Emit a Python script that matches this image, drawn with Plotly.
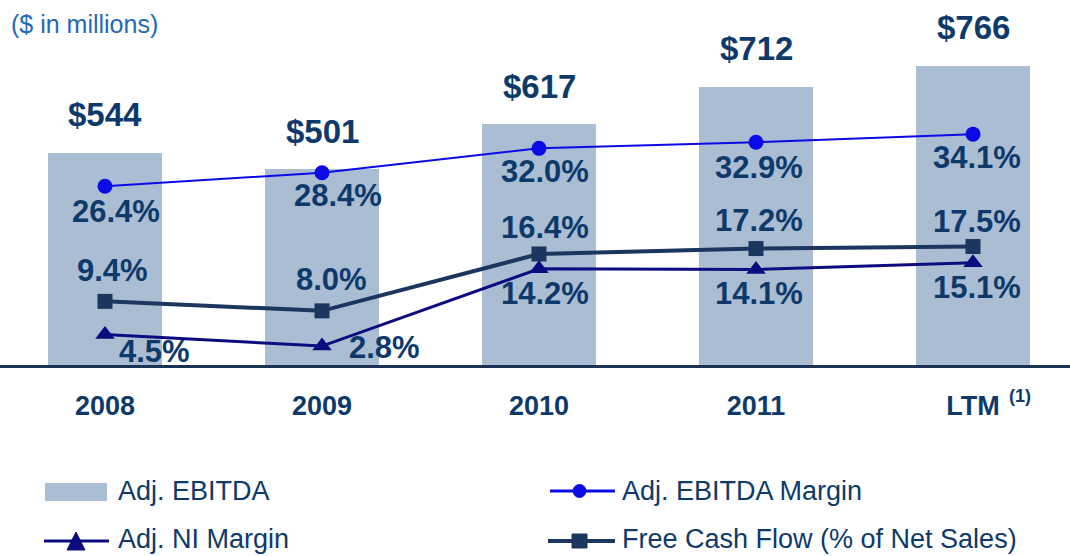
import plotly.graph_objects as go

# ---- data ----
periods = ["2008", "2009", "2010", "2011", "LTM"]
adj_ebitda = [544, 501, 617, 712, 766]            # $ in millions
ebitda_margin = [26.4, 28.4, 32.0, 32.9, 34.1]    # %
ni_margin = [4.5, 2.8, 14.2, 14.1, 15.1]          # %
fcf_pct_sales = [9.4, 8.0, 16.4, 17.2, 17.5]      # %

# ---- style ----
W, H = 1070, 556
FONT = "Liberation Sans, Arial, sans-serif"
TXT = "#0e3a6b"
BAR_C = "#aabdd3"
EBM_C = "#0b0be6"
NI_C = "#0d0b80"
FCF_C = "#1b365f"
AXIS_C = "#1a3355"

# label offsets in pixels (dx right, dy down from the point)
ebm_off = [(11, 25), (16, 23), (6, 23), (3, 25), (4, 23)]
fcf_off = [(7, -31), (9, -31), (6, -26), (3, -28), (4, -25)]
ni_off = [(49, 17), (62, 1), (6, 25), (3, 24), (4, 25)]

base_px = 365                     # pixel row of the zero line
bar_scale = 0.3905                # px per $M
pct_scale = 6.77                  # px per percentage point
cat_px = 217                      # px between category centres
first_px = 105                    # px of first category centre

fig = go.Figure()

fig.add_trace(go.Bar(
    x=periods, y=adj_ebitda, name="Adj. EBITDA",
    marker=dict(color=BAR_C, line=dict(width=0)),
    width=0.525, yaxis="y", showlegend=False, hoverinfo="skip",
))

fig.add_trace(go.Scatter(
    x=periods, y=ebitda_margin, name="Adj. EBITDA Margin", yaxis="y2",
    mode="lines+markers", line=dict(color=EBM_C, width=2),
    marker=dict(symbol="circle", size=15, color=EBM_C), showlegend=False,
))
fig.add_trace(go.Scatter(
    x=periods, y=fcf_pct_sales, name="Free Cash Flow (% of Net Sales)", yaxis="y2",
    mode="lines+markers", line=dict(color=FCF_C, width=4),
    marker=dict(symbol="square", size=15, color=FCF_C), showlegend=False,
))
fig.add_trace(go.Scatter(
    x=periods, y=ni_margin, name="Adj. NI Margin", yaxis="y2",
    mode="lines+markers", line=dict(color=NI_C, width=3),
    marker=dict(symbol="triangle-up", size=17, color=NI_C), showlegend=False,
))

ann = []
# dollar labels above bars (x given as category index)
for i, v in enumerate(adj_ebitda):
    ann.append(dict(x=i, y=v, xref="x", yref="y", text=f"${v:,.0f}",
                    showarrow=False, yanchor="middle", yshift=38,
                    font=dict(family=FONT, size=33, color=TXT, weight="bold")))


def pct_labels(vals, offs):
    for i, (v, (dx, dy)) in enumerate(zip(vals, offs)):
        ann.append(dict(x=i, y=v, xref="x", yref="y2", text=f"{v:.1f}%",
                        showarrow=False, yanchor="middle", xanchor="center",
                        xshift=dx, yshift=-dy,
                        font=dict(family=FONT, size=31, color=TXT, weight="bold")))


pct_labels(ebitda_margin, ebm_off)
pct_labels(fcf_pct_sales, fcf_off)
pct_labels(ni_margin, ni_off)

# footnote marker on the LTM tick
ann.append(dict(x=periods.index("LTM"), y=1 - 396 / H, xref="x", yref="paper",
                text="(1)", showarrow=False, xanchor="left", yanchor="middle",
                xshift=34,
                font=dict(family=FONT, size=18, color=TXT, weight="bold")))

# units note
ann.append(dict(x=9 / W, y=1 - 24 / H, xref="paper", yref="paper",
                text="($ in millions)", showarrow=False,
                xanchor="left", yanchor="middle",
                font=dict(family=FONT, size=25, color="#1f6ab5")))


# ---- legend drawn in pixel space ----
def px(x):
    return x / W


def py(y):
    return 1 - y / H


shapes = []
legend_font = dict(family=FONT, size=27, color=TXT)
row1, row2 = 491, 539

# Adj. EBITDA patch
shapes.append(dict(type="rect", xref="paper", yref="paper",
                   x0=px(45), x1=px(107), y0=py(483), y1=py(501),
                   fillcolor=BAR_C, line=dict(width=0)))
ann.append(dict(x=px(117), y=py(row1), xref="paper", yref="paper",
                text="Adj. EBITDA", showarrow=False, xanchor="left",
                yanchor="middle", borderpad=0, font=legend_font))

# Adj. NI Margin
shapes.append(dict(type="line", xref="paper", yref="paper",
                   x0=px(44), x1=px(109), y0=py(541), y1=py(541),
                   line=dict(color=NI_C, width=3)))
shapes.append(dict(type="path", xref="paper", yref="paper",
                   path=f"M{px(67)},{py(550)} L{px(85)},{py(550)} L{px(76)},{py(532)} Z",
                   fillcolor=NI_C, line=dict(color=NI_C, width=1)))
ann.append(dict(x=px(117), y=py(row2), xref="paper", yref="paper",
                text="Adj. NI Margin", showarrow=False, xanchor="left",
                yanchor="middle", borderpad=0, font=legend_font))

# Adj. EBITDA Margin
shapes.append(dict(type="line", xref="paper", yref="paper",
                   x0=px(550), x1=px(615), y0=py(491), y1=py(491),
                   line=dict(color=EBM_C, width=3)))
shapes.append(dict(type="circle", xref="paper", yref="paper",
                   x0=px(573), x1=px(586), y0=py(484.5), y1=py(497.5),
                   fillcolor=EBM_C, line=dict(color=EBM_C, width=1)))
ann.append(dict(x=px(621), y=py(row1), xref="paper", yref="paper",
                text="Adj. EBITDA Margin", showarrow=False, xanchor="left",
                yanchor="middle", borderpad=0, font=legend_font))

# Free Cash Flow
shapes.append(dict(type="line", xref="paper", yref="paper",
                   x0=px(548), x1=px(615), y0=py(541), y1=py(541),
                   line=dict(color=FCF_C, width=4)))
shapes.append(dict(type="rect", xref="paper", yref="paper",
                   x0=px(572), x1=px(587), y0=py(534), y1=py(548),
                   fillcolor=FCF_C, line=dict(color=FCF_C, width=1)))
ann.append(dict(x=px(621), y=py(row2), xref="paper", yref="paper",
                text="Free Cash Flow (% of Net Sales)", showarrow=False,
                xanchor="left", yanchor="middle", borderpad=0, font=legend_font))

plot_h = base_px
fig.update_layout(
    width=W, height=H,
    margin=dict(l=0, r=0, t=0, b=0),
    paper_bgcolor="white", plot_bgcolor="white",
    showlegend=False,
    bargap=0,
    xaxis=dict(
        type="category", categoryorder="array", categoryarray=periods,
        range=[-first_px / cat_px, (W - first_px) / cat_px],
        showgrid=False, zeroline=False,
        showline=True, linecolor=AXIS_C, linewidth=3,
        ticks="", ticklabelstandoff=15,
        tickfont=dict(family=FONT, size=27, color=TXT, weight="bold"),
    ),
    yaxis=dict(
        domain=[1 - base_px / H, 1],
        range=[0, plot_h / bar_scale],
        visible=False, showgrid=False, zeroline=False,
    ),
    yaxis2=dict(
        overlaying="y", side="right",
        range=[0, plot_h / pct_scale],
        visible=False, showgrid=False, zeroline=False,
    ),
    annotations=ann,
    shapes=shapes,
)

fig.write_html("out.html")
